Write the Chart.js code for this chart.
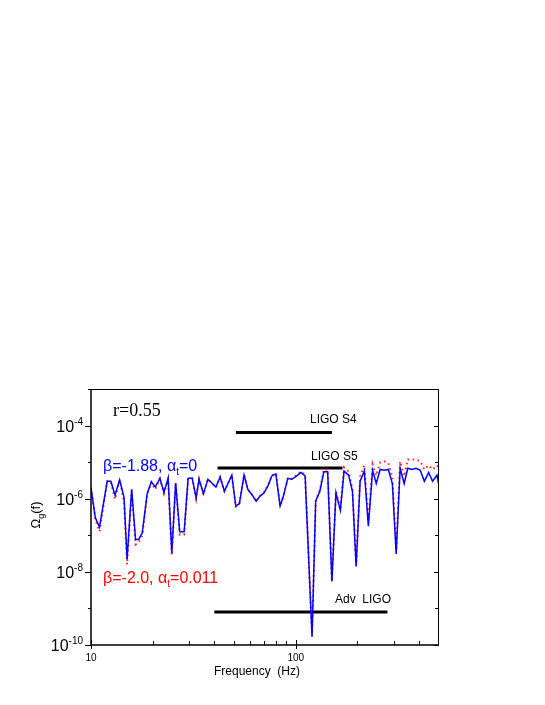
<!DOCTYPE html>
<html><head><meta charset="utf-8">
<script src="https://cdn.jsdelivr.net/npm/chart.js@4.4.0/dist/chart.umd.min.js"></script>
<style>html,body{margin:0;padding:0;background:#fff;}canvas{display:block;}</style>
</head><body>
<canvas id="c" width="545" height="705" style="width:545px;height:705px"></canvas>
<script>
// Frequencies (Hz)
const freq = [10.0,10.5,11.0,12.0,12.5,13.1,13.8,14.5,15.0,15.8,16.5,17.1,17.8,18.8,19.7,20.6,21.7,22.7,23.8,24.8,
  25.9,27.1,28.5,29.8,31.2,32.6,33.7,35.4,37.2,38.9,40.7,42.7,44.8,48.7,50.9,53.0,55.9,58.3,61.0,64.0,
  66.9,70.0,73.0,76.3,79.9,83.8,87.0,91.4,95.6,101,106,111,120,125,131,137,143,150,157,165,
  172,181,189,197,206,216,226,237,247,258,270,283,296,309,323,338,352,369,386,405,
  424,445,465,489,500];
// beta=-1.88, alpha_t=0 (blue solid)
const omegaBlue = [2.0e-6,3.0e-7,1.67e-7,3.0e-6,3.0e-6,1.26e-6,3.3e-6,1.07e-6,2.2e-8,1.8e-6,7.7e-8,7.7e-8,1.17e-7,1.37e-6,2.9e-6,2.1e-6,3.6e-6,1.5e-6,3.6e-6,3.3e-8,
  2.7e-6,1.25e-7,1.25e-7,3.6e-6,3.6e-6,1.07e-6,3.4e-6,1.37e-6,3.4e-6,2.7e-6,2.1e-6,3.9e-6,1.6e-6,4.4e-6,6.3e-7,7.3e-7,4.4e-6,1.8e-6,1.31e-6,8.6e-7,
  1.18e-6,1.46e-6,2.2e-6,4.2e-6,4.8e-6,6.3e-7,1.18e-6,3.6e-6,3.4e-6,4.2e-6,5.2e-6,4.2e-6,1.7e-10,8.6e-7,1.6e-6,5.5e-6,5.5e-6,5.5e-9,1.46e-6,4.8e-7,
  5.7e-6,4.4e-6,1.6e-6,1.4e-8,3.0e-6,5.7e-6,1.77e-7,6.0e-6,2.6e-6,6.3e-6,6.0e-6,6.3e-6,2.6e-6,3.1e-8,6.8e-6,2.6e-6,6.8e-6,6.3e-6,6.8e-6,6.0e-6,
  3.0e-6,5.2e-6,3.0e-6,4.4e-6,2.2e-6];
// beta=-2.0, alpha_t=0.011 (red dotted)
const omegaRed = [2.0e-6,2.7e-7,1.27e-7,3.0e-6,2.9e-6,9.6e-7,3.2e-6,8.4e-7,1.6e-8,1.7e-6,5.6e-8,6.3e-8,1.0e-7,1.3e-6,2.8e-6,1.8e-6,3.5e-6,1.4e-6,3.5e-6,2.8e-8,
  2.6e-6,1.05e-7,1.05e-7,3.6e-6,3.6e-6,1.0e-6,3.4e-6,1.3e-6,3.4e-6,2.7e-6,2.0e-6,3.9e-6,1.6e-6,4.4e-6,6.1e-7,7.1e-7,4.5e-6,1.8e-6,1.3e-6,8.5e-7,
  1.2e-6,1.5e-6,2.3e-6,4.3e-6,5.0e-6,6.2e-7,1.2e-6,3.7e-6,3.5e-6,4.4e-6,5.6e-6,4.4e-6,1.7e-10,8.8e-7,1.7e-6,6.3e-6,6.3e-6,5.5e-9,1.6e-6,5.0e-7,
  7.2e-6,5.5e-6,1.8e-6,1.5e-8,4.1e-6,8.2e-6,2.4e-7,8.7e-6,4.3e-6,9.9e-6,1.05e-5,9.3e-6,3.8e-6,3.8e-8,1.05e-5,4.1e-6,1.19e-5,1.19e-5,1.19e-5,1.05e-5,
  6.3e-6,8.2e-6,6.3e-6,8.2e-6,6.8e-6];
// Sensitivity bars
const s4Freq = [51, 150];   const s4Omega = 6.5e-5;
const s5Freq = [41.5, 169]; const s5Omega = 6.9e-6;
const advFreq = [40, 280];  const advOmega = 8.0e-10;
// Axis ticks
const yTickExps = [-10,-9,-8,-7,-6,-5,-4,-3];
const yLabelExps = [-10,-8,-6,-4];
const xMinorTicks = [20,30,40,50,60,70,80,90,200,300,400];
const xMajorTicks = [10,100];

const SANS = '"Liberation Sans", Arial, sans-serif';
const SERIF = '"Liberation Serif", "Times New Roman", serif';

function drawParts(ctx, parts, x, y, align, color){
  ctx.fillStyle = color;
  ctx.textAlign = 'left';
  ctx.textBaseline = 'alphabetic';
  let w = 0;
  parts.forEach(p=>{ ctx.font = p.size+'px '+(p.family||SANS); p.w = ctx.measureText(p.t).width; w += p.w; });
  let cx = align==='right' ? x - w : (align==='center' ? x - w/2 : x);
  parts.forEach(p=>{ ctx.font = p.size+'px '+(p.family||SANS); ctx.fillText(p.t, cx, y + (p.dy||0)); cx += p.w; });
}

const axesPlugin = {
  id: 'axesPlugin',
  afterDraw(chart){
    const ctx = chart.ctx, a = chart.chartArea, xs = chart.scales.x, ys = chart.scales.y;
    ctx.save();
    ctx.strokeStyle = '#000';
    // frame
    ctx.lineWidth = 1;
    ctx.beginPath();
    ctx.moveTo(a.left, a.top+0.5); ctx.lineTo(a.right, a.top+0.5);
    ctx.moveTo(a.right-0.5, a.top); ctx.lineTo(a.right-0.5, a.bottom);
    ctx.stroke();
    ctx.lineWidth = 1.5;
    ctx.beginPath();
    ctx.moveTo(a.left, a.top); ctx.lineTo(a.left, a.bottom);
    ctx.moveTo(a.left-0.75, a.bottom); ctx.lineTo(a.right, a.bottom);
    ctx.stroke();
    // y ticks
    ctx.lineWidth = 1;
    ctx.beginPath();
    yTickExps.forEach(e=>{
      const py = Math.round(ys.getPixelForValue(Math.pow(10,e)))+0.5;
      const even = (e % 2 === 0);
      ctx.moveTo(a.left - (even?6:3), py); ctx.lineTo(a.left, py);
      ctx.moveTo(a.right, py); ctx.lineTo(a.right - (even?5:4), py);
    });
    // x ticks
    xMinorTicks.forEach(v=>{
      const px = Math.round(xs.getPixelForValue(v))+0.5;
      ctx.moveTo(px, a.bottom); ctx.lineTo(px, a.bottom-4);
    });
    xMajorTicks.forEach(v=>{
      const px = Math.round(xs.getPixelForValue(v))+0.5;
      ctx.moveTo(px, a.bottom+4); ctx.lineTo(px, a.bottom-5);
    });
    ctx.stroke();
    // y labels
    yLabelExps.forEach(e=>{
      const py = ys.getPixelForValue(Math.pow(10,e));
      drawParts(ctx, [{t:'10',size:16},{t:String(e),size:10,dy:-7}], a.left-8, py+6, 'right', '#000');
    });
    // x labels
    xMajorTicks.forEach(v=>{
      const px = xs.getPixelForValue(v);
      drawParts(ctx, [{t:String(v),size:10}], px, a.bottom+16, 'center', '#000');
    });
    // axis titles
    drawParts(ctx, [{t:'Frequency  (Hz)',size:12}], 257, 675, 'center', '#000');
    ctx.save();
    ctx.translate(40, 515);
    ctx.rotate(-Math.PI/2);
    drawParts(ctx, [{t:'\u03A9',size:13},{t:'g',size:9,dy:4},{t:'(f)',size:13}], 0, 0, 'center', '#000');
    ctx.restore();
    // annotations
    drawParts(ctx, [{t:'r=0.55',size:18,family:SERIF}], 113, 416, 'left', '#000');
    drawParts(ctx, [{t:'LIGO S4',size:12}], 310, 423, 'left', '#000');
    drawParts(ctx, [{t:'LIGO S5',size:12}], 311, 460, 'left', '#000');
    drawParts(ctx, [{t:'Adv  LIGO',size:12}], 335, 603, 'left', '#000');
    drawParts(ctx, [{t:'\u03B2=-1.88, \u03B1',size:16},{t:'t',size:10,dy:4},{t:'=0',size:16}], 103, 471, 'left', '#0000ff');
    drawParts(ctx, [{t:'\u03B2=-2.0, \u03B1',size:16},{t:'t',size:10,dy:4},{t:'=0.011',size:16}], 103, 583, 'left', '#ff0000');
    ctx.restore();
  }
};

const pts = (xs, ys) => xs.map((f,i)=>({x:f, y:ys[i]}));
const bar = (fs, v) => [{x:fs[0], y:v},{x:fs[1], y:v}];

new Chart(document.getElementById('c'), {
  type: 'line',
  data: { datasets: [
    { data: pts(freq, omegaBlue), borderColor:'#0000ff', borderWidth:1.5, pointRadius:0, tension:0, fill:false },
    { data: pts(freq, omegaRed), borderColor:'#ff2020', borderWidth:2, borderDash:[1.5,3.5], pointRadius:0, tension:0, fill:false },
    { data: bar(s4Freq, s4Omega), borderColor:'#000', borderWidth:3, pointRadius:0, borderCapStyle:'butt' },
    { data: bar(s5Freq, s5Omega), borderColor:'#000', borderWidth:3, pointRadius:0, borderCapStyle:'butt' },
    { data: bar(advFreq, advOmega), borderColor:'#000', borderWidth:3, pointRadius:0, borderCapStyle:'butt' }
  ]},
  options: {
    responsive:false, animation:false, devicePixelRatio:1, events:[],
    layout:{ padding:{ left:91, right:106, top:389, bottom:60 } },
    scales:{
      x:{ type:'logarithmic', min:10, max:500, display:false },
      y:{ type:'logarithmic', min:1e-10, max:1e-3, display:false }
    },
    plugins:{ legend:{display:false}, tooltip:{enabled:false}, title:{display:false} }
  },
  plugins:[axesPlugin]
});
</script>
</body></html>
